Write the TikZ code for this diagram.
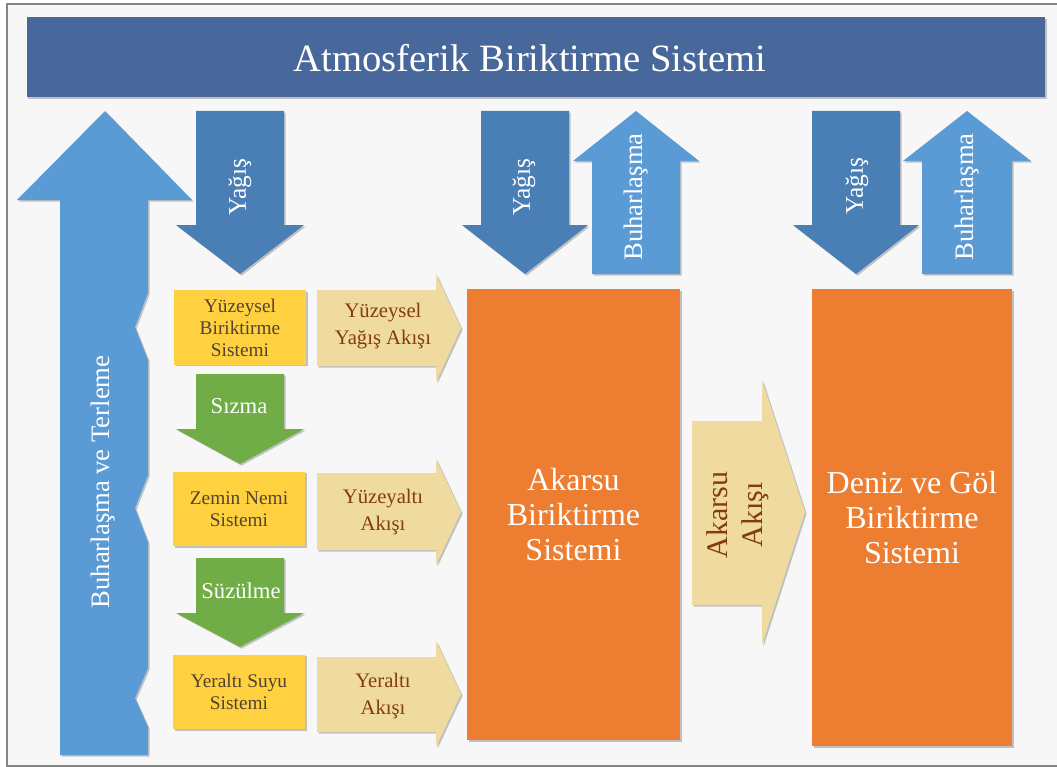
\documentclass[tikz,border=0pt]{standalone}
\usepackage{fontspec}
\setmainfont{Liberation Serif}
\usetikzlibrary{shadows}
\definecolor{titleblue}{HTML}{48679A}
\definecolor{rainblue}{HTML}{4A7FB5}
\definecolor{evapblue}{HTML}{5B9BD5}
\definecolor{leafgreen}{HTML}{70AD47}
\definecolor{boxyellow}{HTML}{FFD03F}
\definecolor{tanfill}{HTML}{EFDB9F}
\definecolor{boxorange}{HTML}{ED7D31}
\definecolor{tantext}{HTML}{843C0C}
\definecolor{ytext}{HTML}{52432F}
\definecolor{bggray}{HTML}{F7F7F7}
\definecolor{framegray}{HTML}{858585}
\tikzset{
  sh/.style={drop shadow={shadow xshift=1.2pt, shadow yshift=-1.2pt, opacity=0.22, fill=black}},
  rainarrow/.style={fill=rainblue, sh},
  evaparrow/.style={fill=evapblue, sh},
  greenarrow/.style={fill=leafgreen, sh},
  tanarrow/.style={fill=tanfill, sh},
  ybox/.style={fill=boxyellow, sh, text=ytext, align=center, inner sep=0pt,
    minimum width=99pt, minimum height=56pt, font=\fontsize{14.5}{16.5}\selectfont},
  obox/.style={fill=boxorange, sh, text=white, align=center, inner sep=0pt,
    font=\fontsize{24}{26.5}\selectfont},
  vtext/.style={text=white, rotate=90, inner sep=0pt},
  tantxt/.style={text=tantext, align=center, inner sep=0pt, font=\fontsize{15.5}{20}\selectfont},
}
\begin{document}
\begin{tikzpicture}[x=0.75pt,y=-0.75pt]
\useasboundingbox (0,0) rectangle (1057,767);
% background and frame
\fill[white] (0,0) rectangle (1057,767);
\draw[framegray, fill=bggray, line width=1.6pt] (7,4) rectangle (1062,766);
% title bar
\node[fill=titleblue, sh, minimum width=764pt, minimum height=60pt, inner sep=0pt] (title) at (536,57) {};
\node[text=white, inner sep=0pt, font=\fontsize{29}{32}\selectfont] (titletext) at (530,58) {Atmosferik Biriktirme Sistemi};
% big left arrow
\path[evaparrow] (105,111) -- (192,200) -- (148,200) -- (148,293) -- (135,327) -- (148,360)
  -- (148,475) -- (135,508) -- (148,542) -- (148,668) -- (135,698) -- (148,727)
  -- (148,755) -- (60,755) -- (60,200) -- (17,200) -- cycle;
\node[vtext, font=\fontsize{20}{22}\selectfont] (evt) at (103,482) {Buharlaşma ve Terleme};
% rain arrows
\path[rainarrow] (196,111) -- (284,111) -- (284,225) -- (304,225) -- (240,274) -- (176,225) -- (196,225) -- cycle;
\node[vtext, font=\fontsize{19}{21}\selectfont] (rain1) at (240,187) {Yağış};
\path[rainarrow] (481,111) -- (569,111) -- (569,225) -- (588,225) -- (525,274) -- (462,225) -- (481,225) -- cycle;
\node[vtext, font=\fontsize{19}{21}\selectfont] (rain2) at (524,187) {Yağış};
\path[rainarrow] (812,111) -- (900,111) -- (900,225) -- (919,225) -- (856,274) -- (793,225) -- (812,225) -- cycle;
\node[vtext, font=\fontsize{19}{21}\selectfont] (rain3) at (857,186) {Yağış};
% evaporation arrows
\path[evaparrow] (636,111) -- (699,161) -- (680,161) -- (680,274) -- (592,274) -- (592,161) -- (573,161) -- cycle;
\node[vtext, font=\fontsize{20}{22}\selectfont] (evap2) at (636,197) {Buharlaşma};
\path[evaparrow] (967,111) -- (1031,161) -- (1012,161) -- (1012,274) -- (922,274) -- (922,161) -- (903,161) -- cycle;
\node[vtext, font=\fontsize{20}{22}\selectfont] (evap3) at (967,197) {Buharlaşma};
% yellow boxes
\node[ybox, minimum height=56pt] (ys) at (240,327.5) {Yüzeysel\\Biriktirme\\Sistemi};
\node[ybox] (zn) at (239,509) {Zemin Nemi\\Sistemi};
\node[ybox] (yas) at (239,692) {Yeraltı Suyu\\Sistemi};
% green arrows
\path[greenarrow] (196,374) -- (284,374) -- (284,429) -- (304,429) -- (240,464) -- (176,429) -- (196,429) -- cycle;
\node[text=white, inner sep=0pt, font=\fontsize{17}{19}\selectfont] (sizma) at (239,406) {Sızma};
\path[greenarrow] (196,558) -- (284,558) -- (284,613) -- (304,613) -- (240,647) -- (176,613) -- (196,613) -- cycle;
\node[text=white, inner sep=0pt, font=\fontsize{17}{19}\selectfont] (suzulme) at (241,591) {Süzülme};
% tan arrows
\path[tanarrow] (317,290) -- (436,290) -- (436,274) -- (461,328) -- (436,382) -- (436,366) -- (317,366) -- cycle;
\node[tantxt] (ya1) at (383,326) {Yüzeysel\\Yağış Akışı};
\path[tanarrow] (317,473) -- (436,473) -- (436,459) -- (461,512) -- (436,565) -- (436,550) -- (317,550) -- cycle;
\node[tantxt] (ya2) at (383,512) {Yüzeyaltı\\Akışı};
\path[tanarrow] (317,657) -- (436,657) -- (436,641) -- (461,694) -- (436,747) -- (436,732) -- (317,732) -- cycle;
\node[tantxt] (ya3) at (383,696) {Yeraltı\\Akışı};
% orange boxes
\node[obox, minimum width=159.75pt, minimum height=338.25pt] (akarsu) at (573.5,514.5) {Akarsu\\Biriktirme\\Sistemi};
\node[obox, minimum width=150pt, minimum height=342.75pt] (deniz) at (912,517.5) {Deniz ve Göl\\Biriktirme\\Sistemi};
% stream flow arrow
\path[tanarrow] (692,421) -- (762,421) -- (762,380) -- (805,512) -- (762,645) -- (762,605) -- (692,605) -- cycle;
\node[tantxt, rotate=90, font=\fontsize{22.5}{26}\selectfont] (aa) at (738,515) {Akarsu\\Akışı};
\end{tikzpicture}
\end{document}
